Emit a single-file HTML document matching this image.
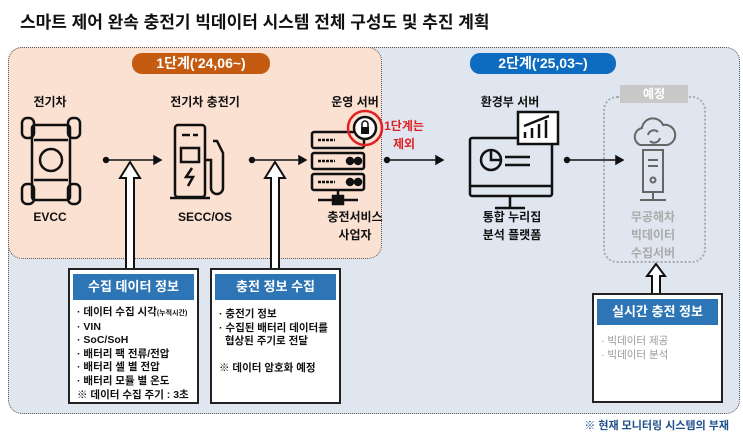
<!DOCTYPE html>
<html><head><meta charset="utf-8"><style>
body{margin:0;width:743px;height:438px;background:#fff;position:relative;overflow:hidden;font-family:"Liberation Sans","Noto Sans CJK KR",sans-serif;}
.a{position:absolute}
.t{position:absolute;font-weight:bold;font-size:12px;color:#111;text-align:center;white-space:nowrap;transform:translateX(-50%);line-height:18px}
.box{position:absolute;background:#fff;border:2px solid #222;box-sizing:border-box}
.hd{position:absolute;left:3px;right:3px;top:4px;height:26px;background:#2e75b6;color:#fff;font-weight:bold;font-size:13px;text-align:center;line-height:26px}
.ls{position:absolute;left:7px;top:36px;font-size:10.5px;font-weight:bold;line-height:13.6px;color:#111;white-space:nowrap}
</style></head><body>
<div class="a" style="left:20px;top:8px;font-size:17px;font-weight:bold;color:#111">스마트 제어 완속 충전기 빅데이터 시스템 전체 구성도 및 추진 계획</div>
<div class="a" style="left:8px;top:47px;width:732px;height:367px;background:#dfe6f0;border:1.5px dotted #555;border-radius:14px;box-sizing:border-box"></div>
<div class="a" style="left:8px;top:47px;width:374px;height:212px;background:#fbe1d2;border:1.5px dotted #555;border-radius:14px;box-sizing:border-box"></div>
<div class="a" style="left:132px;top:53px;width:138px;height:21px;background:#c55a11;border-radius:10px;color:#fff;font-weight:bold;font-size:14px;text-align:center;line-height:21px">1단계('24,06~)</div>
<div class="a" style="left:470px;top:53px;width:146px;height:21px;background:#0d6cc0;border-radius:10px;color:#fff;font-weight:bold;font-size:14px;text-align:center;line-height:21px">2단계('25,03~)</div>
<div class="a" style="left:603px;top:96px;width:103px;height:167px;border:2px dotted #aaa;border-radius:14px;box-sizing:border-box"></div>
<div class="a" style="left:620px;top:85px;width:68px;height:18px;background:#c8c8c8;color:#fff;font-weight:bold;font-size:12px;text-align:center;line-height:18px">예정</div>
<div class="t" style="left:50px;top:93px">전기차</div>
<div class="t" style="left:205px;top:93px">전기차 충전기</div>
<div class="t" style="left:355px;top:93px">운영 서버</div>
<div class="t" style="left:510px;top:93px">환경부 서버</div>
<div class="t" style="left:50px;top:208px">EVCC</div>
<div class="t" style="left:205px;top:208px">SECC/OS</div>
<div class="t" style="left:355px;top:208px">충전서비스<br>사업자</div>
<div class="t" style="left:512px;top:208px">통합 누리집<br>분석 플랫폼</div>
<div class="t" style="left:653px;top:208px;color:#aaa">무공해차<br>빅데이터<br>수집서버</div>
<div class="t" style="left:404px;top:117px;color:#e02020">1단계는<br>제외</div>
<svg class="a" style="left:0;top:0" width="743" height="438" fill="none" stroke="#111" stroke-width="2.5">
<rect x="32" y="125" width="38" height="75" rx="3"/><circle cx="51" cy="160" r="11"/>
<rect x="22" y="118" width="12" height="20" rx="5"/><rect x="68" y="118" width="12" height="20" rx="5"/>
<rect x="22" y="184" width="12" height="20" rx="5"/><rect x="68" y="184" width="12" height="20" rx="5"/>
<line x1="34" y1="140" x2="68" y2="140"/><line x1="34" y1="180" x2="68" y2="180"/>
<rect x="175" y="125" width="30" height="72" rx="3"/><line x1="170" y1="198" x2="210" y2="198"/>
<line x1="182" y1="135" x2="190" y2="135"/><line x1="193" y1="135" x2="198" y2="135"/>
<rect x="181" y="148" width="18" height="14"/>
<path d="M192 168 l-6 9 h7 l-5 9" />
<path d="M205 160 h6 v28 a6 6 0 0 0 12 0 v-35 l-6 -12 h-4" />
<rect x="312" y="132" width="52" height="16" rx="2"/><rect x="312" y="153" width="52" height="16" rx="2"/><rect x="312" y="174" width="52" height="16" rx="2"/>
<line x1="318" y1="140" x2="335" y2="140" stroke-dasharray="3 1"/><line x1="318" y1="161" x2="335" y2="161" stroke-dasharray="3 1"/><line x1="318" y1="182" x2="335" y2="182" stroke-dasharray="3 1"/>
<circle cx="350" cy="161" r="3" fill="#111"/><circle cx="358" cy="161" r="3" fill="#111"/><circle cx="350" cy="182" r="3" fill="#111"/><circle cx="358" cy="182" r="3" fill="#111"/>
<line x1="338" y1="190" x2="338" y2="200"/><line x1="318" y1="200" x2="358" y2="200"/><rect x="333" y="196" width="10" height="8" fill="#111"/>
<circle cx="365" cy="128" r="11" fill="#fff"/><rect x="361" y="127" width="8" height="7" fill="#111" stroke="none"/><path d="M362 127 v-3 a3 3 0 0 1 6 0 v3" stroke-width="1.5"/>
<circle cx="365" cy="128" r="17" stroke="#e02020" stroke-width="2.5"/>
<rect x="470" y="138" width="82" height="58" rx="2"/><line x1="510" y1="196" x2="510" y2="208"/><line x1="495" y1="208" x2="525" y2="208"/>
<circle cx="491" cy="160" r="10"/><path d="M491 150 v10 h10"/><line x1="505" y1="157" x2="530" y2="157"/><line x1="505" y1="165" x2="530" y2="165"/><line x1="470" y1="186" x2="552" y2="186"/>
<rect x="518" y="112" width="40" height="32" fill="#fff"/><path d="M525 138 v-6 M532 138 v-10 M539 138 v-14 M546 138 v-18 M524 126 l25 -10"/>
<g stroke="#666" stroke-width="2">
<path d="M640 145 a9 9 0 0 1 2 -17 a11 11 0 0 1 21 -3 a9 9 0 0 1 4 20 z"/>
<path d="M648 135 a6 6 0 0 1 10 -3 M660 138 a6 6 0 0 1 -10 3"/>
<rect x="643" y="150" width="20" height="42"/><line x1="648" y1="160" x2="658" y2="160"/><line x1="648" y1="166" x2="658" y2="166"/><circle cx="653" cy="180" r="2.5"/>
<line x1="653" y1="192" x2="653" y2="200"/><line x1="640" y1="200" x2="666" y2="200"/></g>
<g stroke-width="1.5" fill="#111">
<circle cx="106" cy="160" r="2.5"/><line x1="106" y1="160" x2="155" y2="160"/><path d="M161 160 l-7 -4 v8z"/>
<circle cx="252" cy="160" r="2.5"/><line x1="252" y1="160" x2="300" y2="160"/><path d="M306 160 l-7 -4 v8z"/>
<circle cx="387" cy="160" r="2.5"/><line x1="387" y1="160" x2="437" y2="160"/><path d="M443 160 l-7 -4 v8z"/>
<circle cx="567" cy="160" r="2.5"/><line x1="567" y1="160" x2="617" y2="160"/><path d="M623 160 l-7 -4 v8z"/>
</g>
<g stroke-width="2" fill="#fff">
<path d="M130 162 l-10 16 h6 v91 h8 v-91 h6 z"/>
<path d="M275 162 l-10 16 h6 v91 h8 v-91 h6 z"/>
<path d="M656 264 l-9 12 h5 v18 h8 v-18 h5 z"/>
</g>
</svg>
<div class="box" style="left:68px;top:268px;width:131px;height:136px"><div class="hd">수집 데이터 정보</div>
<div class="ls">· 데이터 수집 시각<span style="font-size:7px">(누적시간)</span><br>· VIN<br>· SoC/SoH<br>· 배터리 팩 전류/전압<br>· 배터리 셀 별 전압<br>· 배터리 모듈 별 온도<br>※ 데이터 수집 주기 : 3초</div></div>
<div class="box" style="left:210px;top:268px;width:131px;height:136px"><div class="hd">충전 정보 수집</div>
<div class="ls" style="top:38px">· 충전기 정보<br>· 수집된 배터리 데이터를<br>&nbsp;&nbsp;협상된 주기로 전달<br><br>※ 데이터 암호화 예정</div></div>
<div class="box" style="left:592px;top:293px;width:131px;height:110px"><div class="hd">실시간 충전 정보</div>
<div class="ls" style="top:40px;color:#999;font-weight:normal">· 빅데이터 제공<br>· 빅데이터 분석</div></div>
<div class="a" style="right:14px;top:417px;font-size:11px;font-weight:bold;color:#1f4e8c">※ 현재 모니터링 시스템의 부재</div>
</body></html>
